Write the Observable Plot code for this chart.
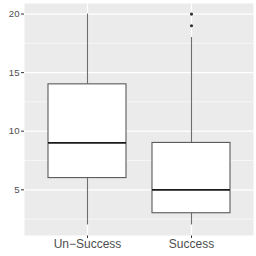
<!DOCTYPE html>
<html>
<head>
<meta charset="utf-8">
<script src="https://cdn.jsdelivr.net/npm/d3@7"></script>
<script src="https://cdn.jsdelivr.net/npm/@observablehq/plot@0.6"></script>
<style>
  html, body { margin: 0; padding: 0; background: #fff; }
  #chart svg { display: block; }
  #chart [aria-label^="x-axis"] text { font-size: 12px; fill: #4D4D4D; }
  #chart [aria-label^="y-axis"] text { font-size: 9.6px; fill: #4D4D4D; }
  #chart [aria-label^="x-axis"] line, #chart [aria-label^="x-axis"] path,
  #chart [aria-label^="y-axis"] line, #chart [aria-label^="y-axis"] path { stroke: #333333; }
</style>
</head>
<body>
<div id="chart"></div>
<script>
const categories = ["Un\u2212Success", "Success"];
const lowerWhisker = [2, 2];
const q1 = [6, 3];
const median = [9, 5];
const q3 = [14, 9];
const upperWhisker = [20, 18];
const outlierCategory = ["Success", "Success"];
const outlierValue = [20, 19];
const yTicks = [5, 10, 15, 20];
const yMinor = [2.5, 7.5, 12.5, 17.5];

const boxes = categories.map((c, i) => ({
  cat: c, lo: lowerWhisker[i], q1: q1[i], med: median[i], q3: q3[i], hi: upperWhisker[i]
}));
const outliers = outlierCategory.map((c, i) => ({cat: c, v: outlierValue[i]}));

const chart = Plot.plot({
  width: 256,
  height: 256,
  marginLeft: 24,
  marginRight: 3,
  marginTop: 3,
  marginBottom: 21,
  style: {fontFamily: "Liberation Sans, Arial, sans-serif", background: "white", color: "#4D4D4D"},
  x: {domain: categories, paddingInner: 0.25, paddingOuter: 0.225, label: null, tickSize: 3, tickPadding: 1},
  y: {domain: [1.1, 20.9], ticks: yTicks, label: null, tickSize: 3, tickPadding: 2},
  marks: [
    Plot.frame({fill: "#EBEBEB", stroke: "none"}),
    Plot.ruleY(yMinor, {stroke: "white", strokeWidth: 0.6}),
    Plot.ruleY(yTicks, {stroke: "white", strokeWidth: 1.2}),
    Plot.ruleX(categories, {x: d => d, stroke: "white", strokeWidth: 1.2}),
    Plot.ruleX(boxes, {x: "cat", y1: "lo", y2: "q1", stroke: "#6E6E6E", strokeWidth: 1.1}),
    Plot.ruleX(boxes, {x: "cat", y1: "q3", y2: "hi", stroke: "#6E6E6E", strokeWidth: 1.1}),
    Plot.barY(boxes, {x: "cat", y1: "q1", y2: "q3", fill: "white", stroke: "#5A5A5A", strokeWidth: 1.1}),
    Plot.tickY(boxes, {x: "cat", y: "med", stroke: "#1A1A1A", strokeWidth: 1.8}),
    Plot.dot(outliers, {x: "cat", y: "v", r: 1.6, fill: "#333333", stroke: "none"})
  ]
});
document.getElementById("chart").appendChild(chart);
</script>
</body>
</html>
